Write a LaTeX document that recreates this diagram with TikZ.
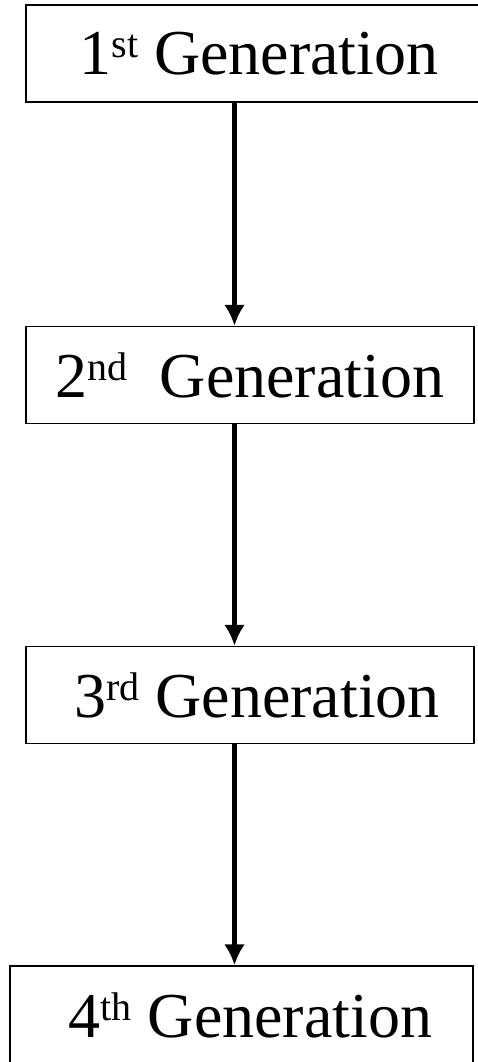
\documentclass[tikz,border=0pt]{standalone}
\usepackage{fontspec}
\setmainfont{Liberation Serif}
\usetikzlibrary{arrows.meta}
\newcommand{\genord}[1]{\raisebox{17pt}{\fontsize{40}{44}\selectfont #1}}
\begin{document}
\begin{tikzpicture}[x=1pt,y=1pt,
        genbox/.style={draw,line width=1.5pt,inner sep=0pt,minimum height=97pt,
                       font=\fontsize{64}{70}\selectfont}]
                \useasboundingbox (0,0) rectangle (478,-1062);
                %% generations
                \node[genbox,minimum width=456pt] (gen1) at (254,-53.5) {\hspace{10pt}1\genord{st} Generation};
                \node[genbox,minimum width=448pt] (gen2) at (250,-375) {2\genord{nd}\ \ Generation};
                \node[genbox,minimum width=448pt] (gen3) at (250,-695) {\hspace{14pt}3\genord{rd} Generation};
                \node[genbox,minimum width=463pt,minimum height=98pt] (gen4) at (241.5,-1015) {\hspace{18pt}4\genord{th} Generation};
                %% arrows
                \coordinate (axis) at (234.5,0);
                \foreach \a/\b in {gen1/gen2,gen2/gen3,gen3/gen4}
                    \draw[line width=5.5pt,-{Latex[length=21pt,width=21pt]}] (\a.south -| axis) -- (\b.north -| axis);
            \end{tikzpicture}
\end{document}
